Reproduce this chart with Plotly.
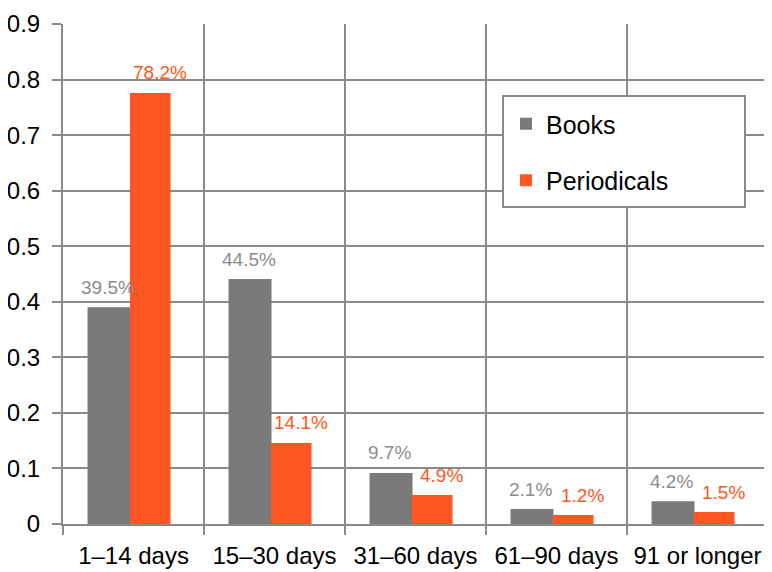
import plotly.graph_objects as go

categories = ["1–14 days", "15–30 days", "31–60 days", "61–90 days", "91 or longer"]
books = [0.39, 0.441, 0.092, 0.027, 0.041]
periodicals = [0.776, 0.146, 0.052, 0.016, 0.0215]
books_labels = ["39.5%", "44.5%", "9.7%", "2.1%", "4.2%"]
periodicals_labels = ["78.2%", "14.1%", "4.9%", "1.2%", "1.5%"]
y_ticks = [0, 0.1, 0.2, 0.3, 0.4, 0.5, 0.6, 0.7, 0.8, 0.9]

GRAY = "#7a7a7a"
ORANGE = "#ff5722"
LINE = "#8a8a8a"
FONT = "Liberation Sans, Arial, sans-serif"

# page body has an 8px margin; figure sized to fill the rest of the window
OFF = 8
W, H = 772 - OFF, 572 - OFF
L, R, T, B = 55, 4, 16, 48
pw, ph = W - L - R, H - T - B

def px_x(p):
    return (p - OFF - L) / pw

def px_y(p):
    return (H - B - (p - OFF)) / ph

fig = go.Figure()
fig.add_trace(go.Bar(x=categories, y=books, name="Books", marker_color=GRAY,
                     marker_line_width=0,
                     width=0.305, offset=-0.326, legendgroup="a"))
fig.add_trace(go.Bar(x=categories, y=periodicals, name="Periodicals",
                     marker_color=ORANGE, marker_line_width=0,
                     width=0.288, offset=-0.025, legendgroup="b"))

annotations = []
for c, v, t in zip(categories, books, books_labels):
    annotations.append(dict(x=c, y=v, text=t, showarrow=False, xshift=-26, yshift=20,
                            font=dict(size=19, color="#8c8c8c", family=FONT)))
for c, v, t in zip(categories, periodicals, periodicals_labels):
    annotations.append(dict(x=c, y=v, text=t, showarrow=False, xshift=26, yshift=20,
                            font=dict(size=19, color=ORANGE, family=FONT)))

fig.update_layout(
    width=W, height=H,
    margin=dict(l=L, r=R, t=T, b=B, autoexpand=False),
    paper_bgcolor="white", plot_bgcolor="white",
    font=dict(family=FONT, color="black"),
    barmode="overlay",
    annotations=annotations,
    legend=dict(x=px_x(506), y=px_y(101), xanchor="left", yanchor="top",
                bgcolor="rgba(0,0,0,0)", borderwidth=0,
                font=dict(size=25, family=FONT, color="black"),
                tracegroupgap=21),
    shapes=[dict(type="rect", xref="paper", yref="paper",
                 x0=px_x(503), x1=px_x(745), y0=px_y(207), y1=px_y(96),
                 line=dict(color=LINE, width=2), fillcolor="white", layer="above")],
    xaxis=dict(type="category", range=[-0.5, 4.5], tickson="boundaries",
               automargin=False,
               showgrid=True, gridcolor=LINE, gridwidth=1.5,
               showline=True, linecolor=LINE, linewidth=2,
               ticks="outside", ticklen=9, tickcolor=LINE, tickwidth=2,
               tickfont=dict(size=24, family=FONT, color="black"),
               ticklabelstandoff=9),
    yaxis=dict(range=[0, 0.9], tickvals=y_ticks,
               ticktext=[f"{v:g}" for v in y_ticks],
               automargin=False,
               showgrid=True, gridcolor=LINE, gridwidth=1.5,
               showline=True, linecolor=LINE, linewidth=2,
               zeroline=False,
               ticks="outside", ticklen=9, tickcolor=LINE, tickwidth=2,
               tickfont=dict(size=24, family=FONT, color="black"),
               ticklabelstandoff=7),
)

fig.write_html("out.html")
